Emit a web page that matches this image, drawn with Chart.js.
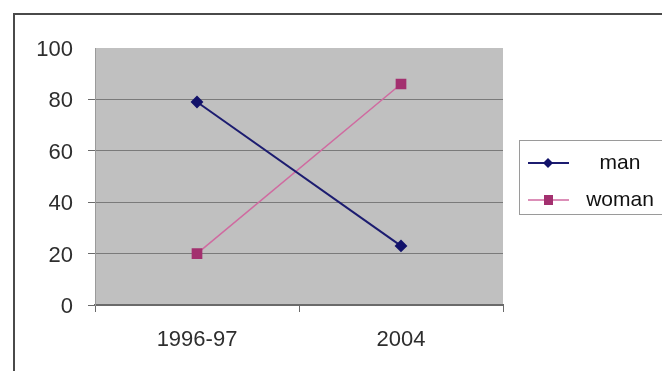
<!DOCTYPE html>
<html>
<head>
<meta charset="utf-8">
<script src="https://cdn.jsdelivr.net/npm/chart.js@4/dist/chart.umd.min.js"></script>
<style>
  html, body { margin: 0; padding: 0; background: #ffffff; }
  #wrap { width: 662px; height: 371px; }
</style>
</head>
<body>
<div id="wrap"><canvas id="c" width="662" height="371"></canvas></div>
<script>
// Survey periods and shares per group
const periods = ['1996-97', '2004'];
const manValues = [79, 23];
const womanValues = [20, 86];
const yTicks = [0, 20, 40, 60, 80, 100];

const FONT = '"Liberation Sans", Arial, sans-serif';

// Grey plot background, outer frame and the boxed legend on the right
const decor = {
  id: 'decor',
  beforeDraw(chart) {
    const { ctx, chartArea: a } = chart;
    ctx.save();
    ctx.fillStyle = '#ffffff';
    ctx.fillRect(0, 0, chart.width, chart.height);
    ctx.fillStyle = '#c0c0c0';
    ctx.fillRect(a.left, a.top, a.right - a.left, a.bottom - a.top);
    // outer frame (left and top edges)
    ctx.strokeStyle = '#4a4a4a';
    ctx.lineWidth = 2;
    ctx.beginPath();
    ctx.moveTo(14, chart.height + 2);
    ctx.lineTo(14, 14);
    ctx.lineTo(chart.width + 2, 14);
    ctx.stroke();
    ctx.restore();
  },
  afterDraw(chart) {
    const { ctx } = chart;
    ctx.save();
    // legend box
    ctx.strokeStyle = '#9a9a9a';
    ctx.lineWidth = 1;
    ctx.strokeRect(519.5, 140.5, 160, 74);
    const rows = [163, 200];
    chart.data.datasets.forEach((ds, i) => {
      const y = rows[i];
      ctx.strokeStyle = ds.borderColor;
      ctx.lineWidth = ds.borderWidth;
      ctx.beginPath();
      ctx.moveTo(528, y);
      ctx.lineTo(569, y);
      ctx.stroke();
      ctx.fillStyle = ds.pointBackgroundColor;
      ctx.beginPath();
      if (ds.pointStyle === 'rectRot') {
        const r = 5;
        ctx.moveTo(548, y - r); ctx.lineTo(548 + r, y);
        ctx.lineTo(548, y + r); ctx.lineTo(548 - r, y);
        ctx.closePath();
      } else {
        ctx.rect(544, y - 5, 9, 10);
      }
      ctx.fill();
      ctx.fillStyle = '#111111';
      ctx.font = '21px ' + FONT;
      ctx.textAlign = 'center';
      ctx.textBaseline = 'middle';
      ctx.fillText(ds.label, 620, y);
    });
    ctx.restore();
  }
};

new Chart(document.getElementById('c'), {
  type: 'line',
  data: {
    labels: periods,
    datasets: [
      {
        label: 'man',
        data: manValues,
        borderColor: '#1c1c70',
        borderWidth: 2,
        pointStyle: 'rectRot',
        pointRadius: 5,
        pointBackgroundColor: '#12126a',
        pointBorderColor: '#12126a',
        tension: 0
      },
      {
        label: 'woman',
        data: womanValues,
        borderColor: '#d06aa0',
        borderWidth: 1.5,
        pointStyle: 'rect',
        pointRadius: 6.5,
        pointBackgroundColor: '#a3306f',
        pointBorderColor: '#a3306f',
        tension: 0
      }
    ]
  },
  options: {
    responsive: false,
    animation: false,
    events: [],
    layout: { padding: { left: 0, top: 48, right: 159, bottom: 0 } },
    plugins: { legend: { display: false }, tooltip: { enabled: false } },
    scales: {
      x: {
        type: 'category',
        offset: true,
        afterFit(scale) { scale.height = 66; },
        grid: {
          offset: true,
          drawOnChartArea: false,
          tickLength: 7,
          tickColor: '#6a6a6a'
        },
        border: { color: '#6a6a6a', width: 2 },
        ticks: {
          color: '#2e2e2e',
          padding: 15,
          font: { family: FONT, size: 22 }
        }
      },
      y: {
        min: 0,
        max: 100,
        afterFit(scale) { scale.width = 95; },
        afterBuildTicks(scale) { scale.ticks = yTicks.map(v => ({ value: v })); },
        grid: {
          color: ctx => (ctx.tick && ctx.tick.value === 100) ? 'rgba(0,0,0,0)' : '#7a7a7a',
          tickColor: ctx => (ctx.tick && ctx.tick.value === 100) ? 'rgba(0,0,0,0)' : '#6a6a6a',
          tickLength: 7,
          lineWidth: 1
        },
        border: { color: '#9a9a9a', width: 1 },
        ticks: {
          color: '#2e2e2e',
          padding: 15,
          labelOffset: 2,
          font: { family: FONT, size: 22 }
        }
      }
    }
  },
  plugins: [decor]
});
</script>
</body>
</html>
